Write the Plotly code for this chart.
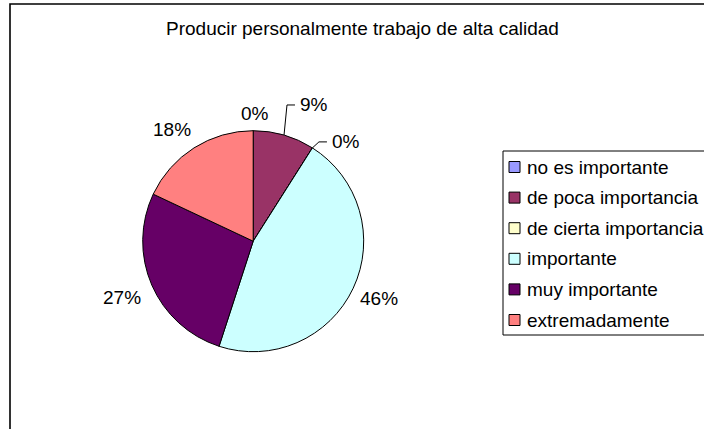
import math
import plotly.graph_objects as go

# Survey answers for one item
title = "Producir personalmente trabajo de alta calidad"
categories = [
    "no es importante",
    "de poca importancia",
    "de cierta importancia",
    "importante",
    "muy importante",
    "extremadamente",
]
values = [0, 9, 0, 46, 27, 18]
colors = ["#9999FF", "#993366", "#FFFFCC", "#CCFFFF", "#660066", "#FF8080"]

FONT = "Arial, 'Liberation Sans', sans-serif"
W, H = 704, 429
CX, CY, R = 253.2, 241.2, 110.5  # pie centre and radius in pixels


def px(x):
    return x / W


def py(y):
    return 1 - y / H


# label placement per slice: (angle shift in degrees, distance from centre, anchor, leader line)
label_style = [
    (0.8, 128, "center", False),
    (2.0, 143.4, "left", True),
    (5.3, 125.5, "left", True),
    (-0.8, 137.6, "center", False),
    (0.0, 143.0, "center", False),
    (-3.7, 137.7, "center", False),
]

total = sum(values)
fig = go.Figure()
fig.add_trace(
    go.Pie(
        labels=categories,
        values=values,
        sort=False,
        direction="clockwise",
        rotation=0,
        marker=dict(colors=colors, line=dict(color="#000000", width=1)),
        textinfo="none",
        showlegend=False,
        domain=dict(x=[px(CX - R), px(CX + R)], y=[py(CY + R), py(CY - R)]),
    )
)

annotations = []
shapes = []

# chart frame
shapes.append(dict(type="rect", xref="paper", yref="paper",
                   x0=px(10), x1=px(740), y0=py(460), y1=py(4),
                   line=dict(color="#000000", width=1.6), fillcolor="rgba(0,0,0,0)"))

# title
annotations.append(dict(text=title, x=px(362), y=py(28), xref="paper", yref="paper",
                        xanchor="center", yanchor="middle", showarrow=False,
                        font=dict(family=FONT, size=19, color="#000000")))

# percentage labels
acc = 0.0
for v, (shift, dist, anchor, leader) in zip(values, label_style):
    frac = v / total
    mid = (acc + frac / 2) * 360.0
    acc += frac
    a = math.radians(mid + shift)
    lx = CX + dist * math.sin(a)
    ly = CY - dist * math.cos(a)
    annotations.append(dict(text=f"{round(frac * 100)}%", x=px(lx), y=py(ly),
                            xref="paper", yref="paper", xanchor=anchor, yanchor="middle",
                            showarrow=False,
                            font=dict(family=FONT, size=19, color="#000000")))
    if leader:
        m = math.radians(mid)
        ax = CX + R * math.sin(m)
        ay = CY - R * math.cos(m)
        ex = lx - 3
        bx = ex - 8
        shapes.append(dict(type="path", xref="paper", yref="paper",
                           path=f"M {px(ax)},{py(ay)} L {px(bx)},{py(ly)} L {px(ex)},{py(ly)}",
                           line=dict(color="#000000", width=1)))

# legend box
LX, LTOP, LBOT = 503, 151, 335
shapes.append(dict(type="rect", xref="paper", yref="paper",
                   x0=px(LX), x1=px(760), y0=py(LBOT), y1=py(LTOP),
                   line=dict(color="#000000", width=1), fillcolor="#FFFFFF"))
item_y0, item_step = 167.0, 30.6
for i, (name, col) in enumerate(zip(categories, colors)):
    yc = item_y0 + i * item_step
    shapes.append(dict(type="rect", xref="paper", yref="paper",
                       x0=px(509), x1=px(520), y0=py(yc + 5.5), y1=py(yc - 5.5),
                       line=dict(color="#000000", width=1), fillcolor=col))
    annotations.append(dict(text=name, x=px(525), y=py(yc), xref="paper", yref="paper",
                            xanchor="left", yanchor="middle", showarrow=False,
                            font=dict(family=FONT, size=19, color="#000000")))

fig.update_layout(
    width=W,
    height=H,
    margin=dict(l=0, r=0, t=0, b=0, autoexpand=False),
    paper_bgcolor="#FFFFFF",
    plot_bgcolor="#FFFFFF",
    showlegend=False,
    annotations=annotations,
    shapes=shapes,
)

fig.write_html("out.html")
